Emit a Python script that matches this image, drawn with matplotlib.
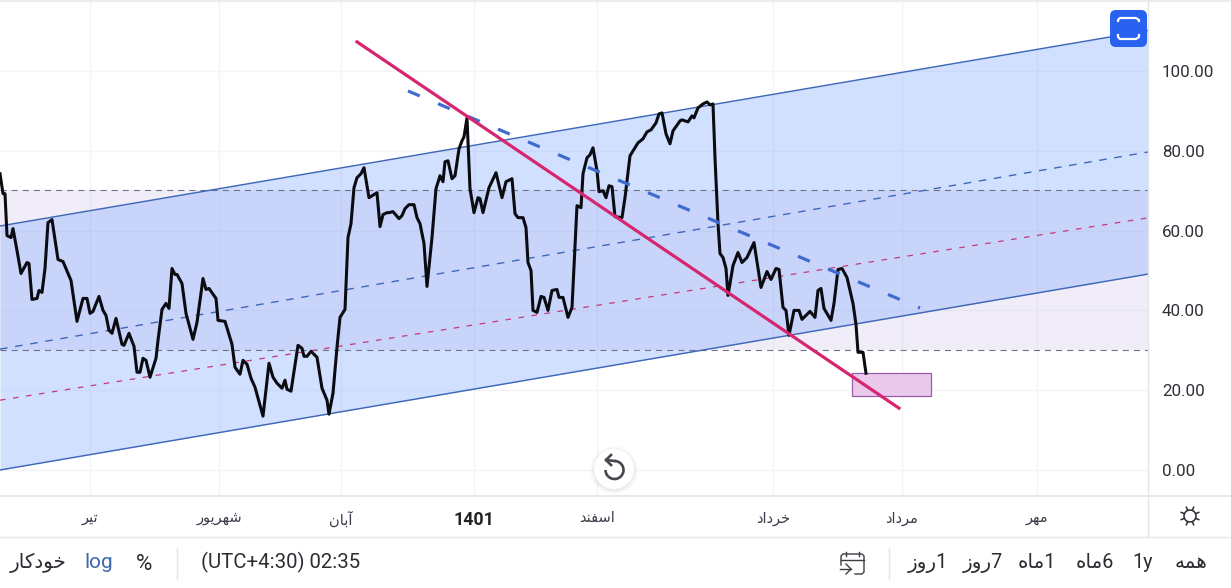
import numpy as np
import matplotlib
matplotlib.use('Agg')
import matplotlib.pyplot as plt
from matplotlib.patches import Rectangle, Circle, FancyBboxPatch, Arc

plt.rcParams['font.family'] = ['Roboto', 'DejaVu Sans']

# chart data, x is the bar position on the time axis
bar_x = [0, 3, 5, 7, 11, 13, 17, 21, 27, 29, 32, 37, 39, 42, 45, 48, 52, 58, 63, 71, 77, 83, 87, 90, 93, 99, 103, 106,
         109, 112, 116, 122, 124, 129, 134, 137, 140, 143, 146, 150, 156, 158, 162, 166, 169, 172, 175, 177, 182, 186,
         193, 197, 203, 206, 209, 216, 218, 225, 232, 235, 240, 243, 247, 251, 255, 263, 269, 273, 277, 282, 285, 287,
         291, 298, 302, 304, 307, 311, 317, 322, 327, 329, 333, 337, 340, 345, 348, 351, 354, 357, 361, 364, 369, 377,
         380, 383, 387, 389, 393, 399, 402, 405, 409, 414, 417, 420, 424, 427, 432, 436, 440, 443, 445, 448, 452, 455,
         459, 462, 464, 467, 470, 474, 478, 480, 483, 489, 496, 502, 506, 512, 515, 518, 523, 526, 528, 531, 533, 537,
         541, 544, 548, 552, 557, 559, 563, 568, 572, 575, 577, 581, 583, 587, 590, 593, 597, 599, 603, 606, 609, 612,
         615, 622, 625, 630, 638, 643, 647, 651, 656, 659, 662, 666, 670, 673, 680, 682, 688, 692, 694, 698, 703, 707,
         710, 713, 715, 718, 720, 723, 726, 728, 733, 738, 742, 747, 754, 761, 767, 771, 776, 779, 783, 786, 789, 794,
         799, 802, 810, 815, 818, 821, 824, 831, 834, 838, 842, 847, 853, 856, 858, 863, 866]
price = [74.25, 69.25, 69.25, 58.75, 58.25, 60.5, 55, 49.25, 52, 51.75, 42.75, 43, 45, 44.5, 50.5, 62, 62.75, 52.75,
         52.25, 47.5, 37.25, 43, 43, 39.25, 39.75, 43.5, 40, 38.75, 35, 34.25, 38, 31.5, 31.25, 34.25, 31, 24.5, 24.5,
         28, 27.5, 23.25, 28, 32.5, 40.25, 41.75, 40.5, 50.5, 49, 49, 46.75, 39.25, 32.75, 37, 48, 45.25, 45.5, 43,
         37.5, 37.25, 31.5, 25.75, 24, 27.5, 26.5, 23, 20.75, 13.5, 26.75, 23.25, 21.75, 20.5, 22.5, 20.25, 19.75,
         31.25, 30.5, 28.5, 28.5, 29.75, 28.25, 20.5, 17.5, 14, 19.25, 30.75, 38.25, 40.25, 58.25, 61.75, 70.75, 73.25,
         74.25, 75.75, 68.25, 69.5, 61, 64, 64.5, 64.5, 64.75, 63, 63.75, 65.5, 66.5, 66.5, 63.25, 61.75, 56.75, 46,
         58.25, 70.5, 73.75, 72.25, 77.25, 77.5, 73, 73.75, 80.5, 82.5, 83.5, 88.25, 70.5, 64.5, 68.25, 68, 64.5, 70.75,
         74.5, 68.25, 72.25, 73, 64.25, 63.25, 63.25, 60.75, 52, 50, 40, 39.5, 43.5, 43.25, 40, 45, 45.25, 43.25, 43.25,
         38.25, 40.75, 55.75, 66.25, 65.75, 74.25, 78.25, 79, 80.75, 75, 69.75, 70, 68.25, 71.25, 71, 63.5, 63.25, 68.25,
         78.75, 82, 83, 84.75, 85.25, 87, 89.25, 89.5, 84.25, 81.75, 85, 87.5, 87.75, 87.25, 88.75, 88.25, 90.75, 91.75,
         92.25, 91.5, 91.75, 78.25, 61.75, 54.25, 53.25, 50.5, 43.75, 51.25, 54.5, 52, 53.25, 57, 45.75, 49.75, 47.75,
         50.5, 50.25, 40.75, 40, 33.75, 40, 40, 37.75, 39.75, 38.25, 45, 45.5, 40.5, 37.5, 41.75, 50.25, 50.5, 48.25,
         41.75, 36.5, 29.5, 29.5, 24.25]

channel_x = [0, 1148]
channel_upper = [61.15, 110.15]
channel_lower = [0.0, 49.1]
channel_mid = [30.3, 79.7]
median_red = [17.5, 63.2]
trend_x = [357, 899]
trend_y = [107.3, 15.5]
resist_x = [408, 920]
resist_y = [95.0, 40.6]
band_y = [30.1, 70.3]
box_x = [852, 931]
box_y = [18.5, 24.3]

y_ticks = [0, 20, 40, 60, 80, 100]
x_ticks = [90, 219, 341, 474, 597, 773, 902, 1037]
x_labels = ['تیر', 'شهریور', 'آبان', '1401', 'اسفند', 'خرداد', 'مرداد', 'مهر']
range_labels = ['همه', '1y', '6ماه', '1ماه', '7روز', '1روز']
range_pos = [1191, 1143, 1095, 1037, 983, 928]

# matplotlib does no arabic shaping, so pick the presentation forms by hand
FORMS = {'ت': (0xFE95, 0xFE96, 0xFE97, 0xFE98), 'ی': (0xFBFC, 0xFBFD, 0xFBFE, 0xFBFF),
         'ش': (0xFEB5, 0xFEB6, 0xFEB7, 0xFEB8), 'ه': (0xFEE9, 0xFEEA, 0xFEEB, 0xFEEC),
         'ب': (0xFE8F, 0xFE90, 0xFE91, 0xFE92), 'ن': (0xFEE5, 0xFEE6, 0xFEE7, 0xFEE8),
         'س': (0xFEB1, 0xFEB2, 0xFEB3, 0xFEB4), 'ف': (0xFED1, 0xFED2, 0xFED3, 0xFED4),
         'خ': (0xFEA5, 0xFEA6, 0xFEA7, 0xFEA8), 'م': (0xFEE1, 0xFEE2, 0xFEE3, 0xFEE4),
         'ک': (0xFB8E, 0xFB8F, 0xFB90, 0xFB91), 'ر': (0xFEAD, 0xFEAE), 'و': (0xFEED, 0xFEEE),
         'آ': (0xFE81, 0xFE82), 'ا': (0xFE8D, 0xFE8E), 'د': (0xFEA9, 0xFEAA), 'ز': (0xFEAF, 0xFEB0)}

def fa(s):
    if not any(c in FORMS for c in s):
        return s
    out = ''
    for i, c in enumerate(s):
        if c not in FORMS:
            out += c
            continue
        f = FORMS[c]
        prev_joins = i > 0 and s[i-1] in FORMS and len(FORMS[s[i-1]]) == 4
        next_joins = i < len(s)-1 and s[i+1] in FORMS and len(f) == 4
        if prev_joins and next_joins:
            out += chr(f[3])
        elif next_joins:
            out += chr(f[2])
        elif prev_joins:
            out += chr(f[1])
        else:
            out += chr(f[0])
    return out[::-1]

W = 1231
H = 588
fig = plt.figure(figsize=(W/100, H/100), dpi=100, facecolor='white')
ax = fig.add_axes([0, (H-496)/H, 1148/W, 494/H])
ax.set_xlim(0, 1148)
ax.set_ylim((470-496)/3.99, (470-2)/3.99)
for s in ax.spines.values():
    s.set_visible(False)

ax.set_axisbelow(True)
ax.grid(True, color='#f3f4f8', linewidth=1.0)
ax.set_xticks(x_ticks)
ax.set_xticklabels([fa(s) for s in x_labels], fontsize=10.5, color='#3a3e4a')
ax.get_xticklabels()[3].set_fontweight('bold')
ax.get_xticklabels()[3].set_fontsize(12.8)
ax.get_xticklabels()[3].set_color('#222222')
ax.set_yticks(y_ticks)
ax.set_yticklabels(['%.2f' % v for v in y_ticks], fontsize=12.2, color='#2e3038')
ax.yaxis.tick_right()
ax.tick_params(axis='y', length=0, pad=10)
ax.tick_params(axis='x', length=0, pad=11)

# price band and regression channel
ax.axhspan(band_y[0], band_y[1], color='#9575cd', alpha=0.13, linewidth=0, zorder=1)
ax.fill_between(channel_x, channel_lower, channel_upper, color='#82aaff', alpha=0.36, linewidth=0, zorder=1.1)
ax.plot([0, 1148], [band_y[1], band_y[1]], color='#6f7385', lw=0.8, dashes=(5.5, 4.5), zorder=2)
ax.plot([0, 1148], [band_y[0], band_y[0]], color='#6f7385', lw=0.8, dashes=(5.5, 4.5), zorder=2)
ax.plot(channel_x, channel_upper, color='#3f68b8', lw=1.05, zorder=2)
ax.plot(channel_x, channel_lower, color='#3f68b8', lw=1.05, zorder=2)
ax.plot(channel_x, channel_mid, color='#3f68b8', lw=1.0, dashes=(5.5, 5.5), zorder=2)
ax.plot(channel_x, median_red, color='#c43a78', lw=0.9, dashes=(4.5, 6), zorder=2)

ax.add_patch(Rectangle((box_x[0], box_y[0]), box_x[1]-box_x[0], box_y[1]-box_y[0],
                       facecolor='#ebc9ec', edgecolor='#9a5aa6', lw=0.9, zorder=2.5))
ax.plot(bar_x, price, color='#0b0b12', lw=2.2, solid_joinstyle='round', zorder=3)
ax.plot(resist_x, resist_y, color='#3f6bd0', lw=2.3, dashes=(4, 6.2), zorder=3.5)
ax.plot(trend_x, trend_y, color='#d6266f', lw=2.3, zorder=4)

# toolbar and widgets, drawn in pixel coordinates on top
ui = fig.add_axes([0, 0, 1, 1], facecolor='none')
ui.set_xlim(0, W)
ui.set_ylim(H, 0)
ui.axis('off')

ui.add_patch(Rectangle((0, 0), W, 2, color='#ececee', lw=0))
ui.plot([0, W], [496, 496], color='#dfe1e6', lw=1.1)
ui.plot([0, W], [537, 537], color='#e6e7eb', lw=1.0)
ui.plot([1148, 1148], [0, 537], color='#e3e5ea', lw=1.0)
ui.plot([177, 177], [548, 579], color='#e3e5ea', lw=1.0)
ui.plot([889, 889], [548, 579], color='#e3e5ea', lw=1.0)

# fullscreen button
ui.add_patch(FancyBboxPatch((1114, 14), 29, 29, boxstyle='round,pad=4,rounding_size=6', facecolor='#2962f0', edgecolor='none', zorder=5))
ui.plot([1118, 1118, 1120, 1136, 1139, 1139], [21, 20, 18, 18, 20, 21], color='white', lw=1.6, zorder=6)
ui.plot([1118, 1118, 1120, 1136, 1139, 1139], [35, 37, 39, 39, 37, 35], color='white', lw=1.6, zorder=6)

# reset button
for r, a in [(24, 0.04), (22.5, 0.05), (21, 0.07)]:
    ui.add_patch(Circle((614, 470), r, facecolor='#888888', alpha=a, edgecolor='none', zorder=5))
ui.add_patch(Circle((614, 469), 20, facecolor='white', edgecolor='none', zorder=5.1))
ui.add_patch(Arc((614.5, 470), 18, 18, theta1=-90, theta2=180, color='#46484f', lw=1.9, zorder=6))
ui.plot([611, 606, 611], [455, 460, 465], color='#46484f', lw=1.9, zorder=6)
ui.plot([606, 614.5], [460, 461], color='#46484f', lw=1.9, zorder=6)

# sun icon
ui.add_patch(Circle((1190, 516), 6, facecolor='none', edgecolor='#2a2c33', lw=1.1))
for ang in np.arange(22.5, 360, 45):
    a = np.deg2rad(ang)
    ui.plot([1190+6.5*np.cos(a), 1190+9.5*np.cos(a)], [516+6.5*np.sin(a), 516+9.5*np.sin(a)], color='#2a2c33', lw=1.1)

# calendar icon
ui.plot([841, 841, 843, 862, 864, 864, 862, 855], [565, 556, 554, 554, 556, 572, 574, 574], color='#3a3d45', lw=1.0)
ui.plot([841, 864], [560, 560], color='#3a3d45', lw=1.0)
ui.plot([846, 846], [552, 556], color='#3a3d45', lw=1.0)
ui.plot([859, 859], [552, 556], color='#3a3d45', lw=1.0)
ui.plot([840, 851], [569, 569], color='#3a3d45', lw=1.0)
ui.plot([846, 851, 846], [564, 569, 574], color='#3a3d45', lw=1.0)

text_c = '#2b2d33'
ui.text(38, 563, fa('خودکار'), ha='center', va='center', fontsize=14.3, color=text_c)
ui.text(99, 562, 'log', ha='center', va='center', fontsize=15, color='#3f68b0')
ui.text(144, 564, '%', ha='center', va='center', fontsize=16, color=text_c)
ui.text(281, 562, '(UTC+4:30) 02:35', ha='center', va='center', fontsize=14.7, color=text_c)
for s, xp in zip(range_labels, range_pos):
    ui.text(xp, 563, fa(s), ha='center', va='center', fontsize=14.3, color=text_c)

fig.savefig('out.png', dpi=100)
